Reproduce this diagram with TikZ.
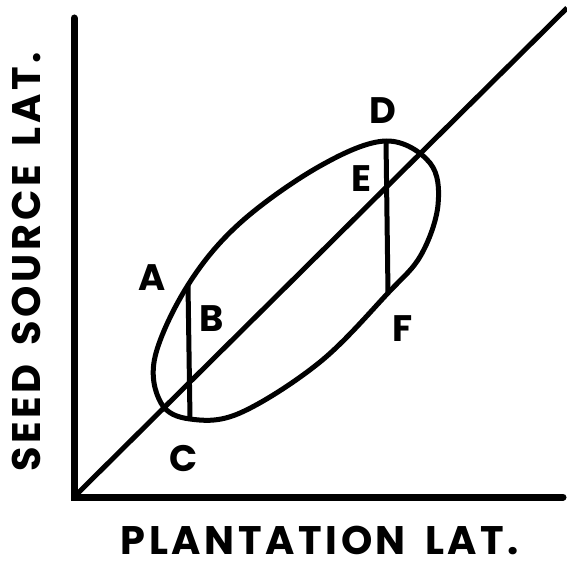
\documentclass[tikz,border=0pt]{standalone}
\usepackage{fontspec}
\setsansfont{Poppins}
\newfontfamily\titlefont{Poppins}[LetterSpace=9,WordSpace=1.6]
\tikzset{
	axis/.style={line width=7bp, line cap=round},
	curve/.style={line width=5bp, line join=round},
	lbl/.style={font=\sffamily\bfseries\fontsize{37}{37}\selectfont, inner sep=0pt},
	title/.style={font=\titlefont\bfseries\fontsize{40}{40}\selectfont, inner sep=0pt}
}
\begin{document}
\begin{tikzpicture}[x=1bp,y=-1bp]
	\useasboundingbox (0,0) rectangle (567,564);
	
	% axes
	\coordinate (O) at (74,497);
	\coordinate (Ytop) at (74,18);
	\coordinate (Xend) at (563,497);
	\draw[axis] (Ytop) -- (O) -- (Xend);
	
	% diagonal
	\coordinate (Dend) at (567,8);
	\draw[curve] (O) -- (Dend);
	
	% points on the ellipse
	\coordinate (A) at (188,285);
	\coordinate (C) at (190,419);
	\coordinate (D) at (386,141);
	\coordinate (F) at (388,293);
	
	\draw[curve] plot[smooth cycle, tension=0.6] coordinates {
		(D) (430,163) (438,205) (421,255) (F) (320,362) (240,413)
		(C) (161,403) (155,357) (A) (240,223) (320,166)};
	
	\draw[curve] (A) -- (C);
	\draw[curve] (D) -- (F);
	
	% labels
	\node[lbl] (LA) at (152,278) {A};
	\node[lbl] (LB) at (212,319) {B};
	\node[lbl] (LC) at (184,458) {C};
	\node[lbl] (LD) at (383,111) {D};
	\node[lbl] (LE) at (361,179) {E};
	\node[lbl] (LF) at (403,329) {F};
	
	\node[title] (Xlabel) at (320,540) {PLANTATION LAT.};
	\node[title, rotate=90] (Ylabel) at (26,262) {SEED SOURCE LAT.};
	
\end{tikzpicture}
\end{document}
